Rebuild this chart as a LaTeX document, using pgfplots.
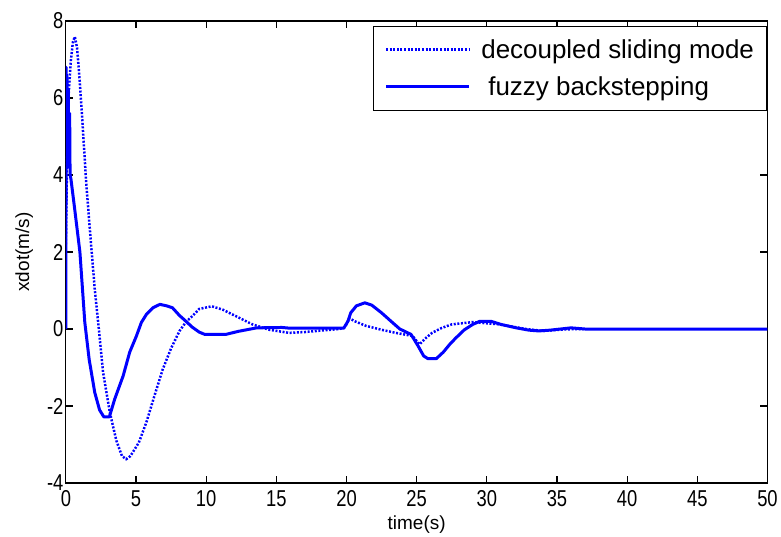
\documentclass[border=0pt]{standalone}
\usepackage{fontspec}
\setmainfont{Liberation Sans}
\newfontfamily\tickfont[FakeStretch=0.8]{Liberation Sans}
\usepackage{pgfplots}
\pgfplotsset{compat=1.18}
\definecolor{mblue}{RGB}{0,0,255}
\begin{document}
\begin{tikzpicture}
\path (0,0) (781pt,537pt);
\begin{axis}[
  at={(66pt,53pt)}, anchor=south west,
  scale only axis, width=703pt, height=463pt,
  xmin=0, xmax=50, ymin=-4, ymax=8,
  xtick={0,5,...,50}, ytick={-4,-2,...,8},
  axis lines=box,
  axis line style={line width=1.2pt, black},
  tick align=inside,
  major tick length=7pt,
  major tick style={black, line width=1.2pt},
  /pgf/number format/assume math mode=true,
  tick label style={font=\tickfont\fontsize{23}{23}\selectfont},
  xticklabel style={yshift=-4pt},
  yticklabel style={xshift=1pt},
  label style={font=\fontsize{19}{19}\selectfont},
  xlabel={time(s)}, ylabel={xdot(m/s)},
  xlabel style={yshift=-2pt},
  ylabel style={yshift=7pt},
  legend style={at={(1,0.989)}, anchor=north east, draw=black, line width=1pt,
    font=\fontsize{26}{26}\selectfont, inner xsep=11pt, inner ysep=11pt,
    row sep=13pt, column sep=9pt, nodes={inner sep=2pt}},
  legend cell align=left,
  legend image code/.code={\draw[#1] (0pt,0pt) -- (83pt,0pt);},
]
\addplot[mblue, line width=2.5pt, dash pattern=on 2pt off 1.6pt] coordinates {
(0,2.2) (0.05,3.5) (0.17,5.95) (0.36,6.98) (0.5,7.45) (0.64,7.59) (0.8,7.3) (1.0,6.38)
(1.23,5.09) (1.45,3.8) (1.75,2.4) (2.06,1.03) (2.35,0.0) (2.65,-1.12) (3.13,-2.16)
(3.6,-2.9) (4.0,-3.3) (4.3,-3.38) (4.6,-3.3) (5.2,-2.95) (5.74,-2.42) (6.3,-1.75)
(6.9,-1.05) (7.5,-0.5) (8.1,-0.05) (8.6,0.2) (9.0,0.33) (9.5,0.52) (10.4,0.59)
(11.2,0.5) (12.3,0.3) (13.3,0.12) (14.5,-0.02) (15.9,-0.1) (17,-0.08) (18.5,-0.03)
(19.5,0.0) (19.9,0.05) (20.2,0.28) (20.6,0.2) (21.4,0.08) (22.5,-0.02) (23.5,-0.1)
(24.7,-0.18) (25.2,-0.4) (25.6,-0.25) (26.1,-0.1) (26.8,0.03) (27.5,0.12) (29,0.18)
(30.9,0.12) (32.8,0) (34,-0.05) (35.5,-0.01) (36.9,0.0)
};
\addlegendentry{decoupled sliding mode}
\addplot[mblue, line width=3pt, line join=round] coordinates {
(0,0) (0.02,6.8) (0.05,4.8) (0.08,6.6) (0.12,4.2) (0.17,6.2) (0.22,4.4) (0.27,5.6)
(0.3,4.0) (0.36,3.9) (0.6,3.2) (1.0,2.0) (1.35,0.17) (1.66,-0.79) (2.06,-1.65)
(2.4,-2.1) (2.7,-2.28) (3.1,-2.28) (3.48,-1.82) (4.08,-1.22) (4.55,-0.6) (5.03,-0.18)
(5.38,0.17) (5.74,0.38) (6.2,0.55) (6.7,0.64) (7.2,0.6) (7.6,0.55) (8.1,0.35)
(8.5,0.22) (9.0,0.05) (9.5,-0.08) (9.9,-0.14) (11.4,-0.14) (12.3,-0.06) (13.6,0.03)
(15.4,0.04) (16,0.02) (19.8,0.02) (20.1,0.2) (20.3,0.42) (20.7,0.6) (21.3,0.68)
(21.8,0.62) (22.5,0.42) (23.3,0.16) (23.8,0.0) (24.6,-0.14) (25.1,-0.44) (25.5,-0.7)
(25.8,-0.77) (26.4,-0.77) (26.9,-0.6) (27.4,-0.38) (27.8,-0.23) (28.4,-0.02) (29,0.12)
(29.5,0.2) (30.3,0.2) (31,0.12) (32.1,0.03) (33,-0.03) (33.7,-0.05) (34.5,-0.03)
(36,0.03) (37,0.0) (50,0)
};
\addlegendentry{\hspace{7pt}fuzzy backstepping}
\end{axis}
\end{tikzpicture}
\end{document}
